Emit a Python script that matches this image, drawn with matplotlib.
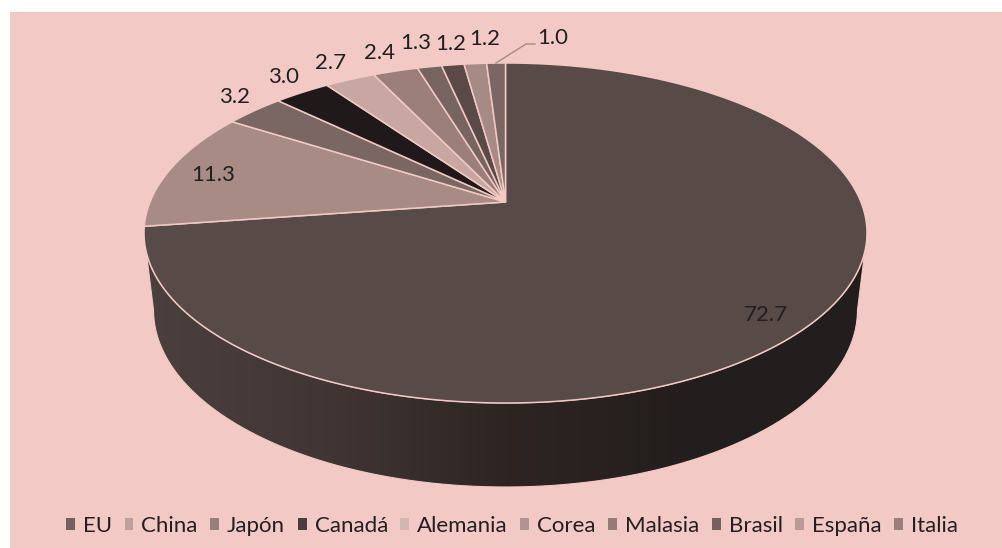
import matplotlib
matplotlib.use("Agg")
import matplotlib.pyplot as plt
from matplotlib.patches import PathPatch, Patch, Rectangle
from matplotlib.path import Path
from matplotlib.colors import LinearSegmentedColormap
import numpy as np

plt.rcParams['font.family'] = ['Lato', 'DejaVu Sans']

# data
countries = ["EU", "China", "Japón", "Canadá", "Alemania", "Corea", "Malasia", "Brasil", "España", "Italia"]
values = [72.7, 11.3, 3.2, 3.0, 2.7, 2.4, 1.3, 1.2, 1.2, 1.0]
value_labels = ["72.7", "11.3", "3.2", "3.0", "2.7", "2.4", "1.3", "1.2", "1.2", "1.0"]

# colours
bg_color = "#F2C9C5"
text_color = "#231F20"
slice_colors = ["#584A47", "#A88B85", "#7A6662", "#1F1A19", "#C8A7A2",
                "#9C7F7B", "#776461", "#5A4A47", "#A68A85", "#7A6662"]
legend_colors = ["#75605E", "#BD9F9B", "#9A7E7B", "#4A3D3C", "#D4B5B1",
                 "#B09491", "#957B78", "#75605E", "#B89A96", "#9A7E7B"]
wall_colors = ["#4C403E", "#413634", "#2E2523", "#231E1D", "#221E1D"]

# layout, in image pixels
label_xy = [(766, 315), (213, 175), (235, 97), (284, 77), (331, 63),
            (380, 53), (416, 43), (451, 44), (485, 39), (553, 38)]
leader_x = [496, 526, 535]
leader_y = [63, 44, 44]

# top face of the pie: a circle seen in perspective
cx, cy, a, b = 505.5, 233, 361.5, 170
apex_y = 202
k = (apex_y - cy) / b
# bottom rim
bot_cy, bot_a, bot_b = 310, 352, 177
wall_start_y = 252


def project(frac):
    # clockwise from 12 o'clock, circle mapped so its centre lands on the apex
    t = 2 * np.pi * np.asarray(frac)
    x, y = np.sin(t), -np.cos(t)
    d = 1 + k * y
    return cx + a * x * np.sqrt(1 - k * k) / d, cy + b * (y + k) / d


fig = plt.figure(figsize=(10.03, 5.48), dpi=100, facecolor="white")
ax = fig.add_axes([0, 0, 1, 1])

ax.add_patch(Rectangle((10, 12), 993, 536, fc=bg_color, ec="none", zorder=0))

# side wall with its left to right shading
t = np.linspace(0, np.pi, 200)
bot_xs = cx - bot_a * np.cos(t)
bot_ys = bot_cy + bot_b * np.sin(t)
t0 = np.arcsin((wall_start_y - cy) / b)
top_t = np.linspace(t0, np.pi - t0, 200)
top_xs = cx + a * np.cos(top_t)
top_ys = cy + b * np.sin(top_t)
wall = np.column_stack([np.concatenate([bot_xs, top_xs]), np.concatenate([bot_ys, top_ys])])
wall_patch = PathPatch(Path(np.vstack([wall, wall[:1]])), fc="none", ec=bg_color, lw=0.8, zorder=2)
ax.add_patch(wall_patch)
shade = LinearSegmentedColormap.from_list("wall", wall_colors)
img = ax.imshow(np.linspace(0, 1, 256)[None, :], extent=(145, 866, 490, 230), cmap=shade,
                aspect="auto", zorder=1)
img.set_clip_path(wall_patch)

# imshow resets the limits, so set them after it
ax.set_xlim(0, 1003)
ax.set_ylim(548, 0)
ax.axis("off")

# slices
edges = np.cumsum([0] + values) / sum(values)
for i, val in enumerate(values):
    fr = np.linspace(edges[i], edges[i + 1], max(int(val * 6), 8))
    xs, ys = project(fr)
    px = np.concatenate([[cx], xs, [cx]])
    py = np.concatenate([[apex_y], ys, [apex_y]])
    ax.fill(px, py, fc=slice_colors[i], ec=bg_color, lw=1.1, joinstyle="miter", zorder=3)

# value labels
for txt, (lx, ly) in zip(value_labels, label_xy):
    ax.text(lx, ly, txt, ha="center", va="center", fontsize=16, color=text_color, zorder=5)
ax.plot(leader_x, leader_y, color="#A68A85", lw=1, zorder=4)

handles = [Patch(fc=c, ec="none", label=n) for c, n in zip(legend_colors, countries)]
ax.legend(handles=handles, ncols=len(countries), loc="center", bbox_to_anchor=(512 / 1003, 1 - 526 / 548),
          frameon=False, fontsize=16, labelcolor=text_color, handlelength=0.4, handleheight=0.4,
          handletextpad=0.36, columnspacing=0.56, borderpad=0, borderaxespad=0)

fig.savefig("out.png", dpi=100, facecolor="white")
plt.close()
